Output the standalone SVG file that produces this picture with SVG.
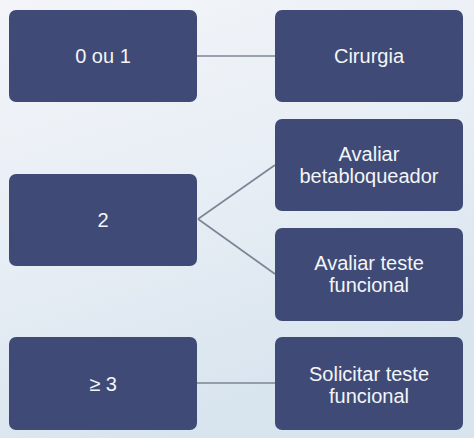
<svg xmlns="http://www.w3.org/2000/svg" width="474" height="438" viewBox="0 0 474 438">
  <defs>
    <linearGradient id="bg" x1="0" y1="0" x2="0.35" y2="1">
      <stop offset="0" stop-color="#F3F5F9"/>
      <stop offset="0.5" stop-color="#E8EEF5"/>
      <stop offset="1" stop-color="#D8E4EE"/>
    </linearGradient>
  </defs>
  <style>
    .box { fill: #3F4B76; }
    .lbl { fill: #F4F5F8; font-family: "Liberation Sans", Arial, sans-serif; font-size: 20px; text-anchor: middle; }
    .conn { stroke: #7C8496; stroke-width: 1.6; fill: none; }
  </style>
  <rect x="0" y="0" width="474" height="438" fill="url(#bg)"/>
  <g id="connectors">
    <line class="conn" x1="197" y1="56" x2="275" y2="56"/>
    <line class="conn" x1="198" y1="219" x2="275" y2="165"/>
    <line class="conn" x1="198" y1="219" x2="275" y2="274"/>
    <line class="conn" x1="197" y1="383" x2="275" y2="383"/>
  </g>
  <g id="n0ou1">
    <rect class="box" x="9" y="10" width="188" height="92" rx="7"/>
    <text class="lbl" x="103" y="63">0 ou 1</text>
  </g>
  <g id="n2">
    <rect class="box" x="9" y="174" width="188" height="92" rx="7"/>
    <text class="lbl" x="103" y="227">2</text>
  </g>
  <g id="n3">
    <rect class="box" x="9" y="337" width="188" height="93" rx="7"/>
    <text class="lbl" x="103" y="391">≥ 3</text>
  </g>
  <g id="cirurgia">
    <rect class="box" x="275" y="10" width="188" height="92" rx="7"/>
    <text class="lbl" x="369" y="63">Cirurgia</text>
  </g>
  <g id="betabloqueador">
    <rect class="box" x="275" y="119" width="188" height="92" rx="7"/>
    <text class="lbl" x="369" y="161">Avaliar</text>
    <text class="lbl" x="369" y="183">betabloqueador</text>
  </g>
  <g id="testefuncional">
    <rect class="box" x="275" y="228" width="188" height="93" rx="7"/>
    <text class="lbl" x="369" y="270">Avaliar teste</text>
    <text class="lbl" x="369" y="292">funcional</text>
  </g>
  <g id="solicitar">
    <rect class="box" x="275" y="337" width="188" height="93" rx="7"/>
    <text class="lbl" x="369" y="381">Solicitar teste</text>
    <text class="lbl" x="369" y="403">funcional</text>
  </g>
</svg>
